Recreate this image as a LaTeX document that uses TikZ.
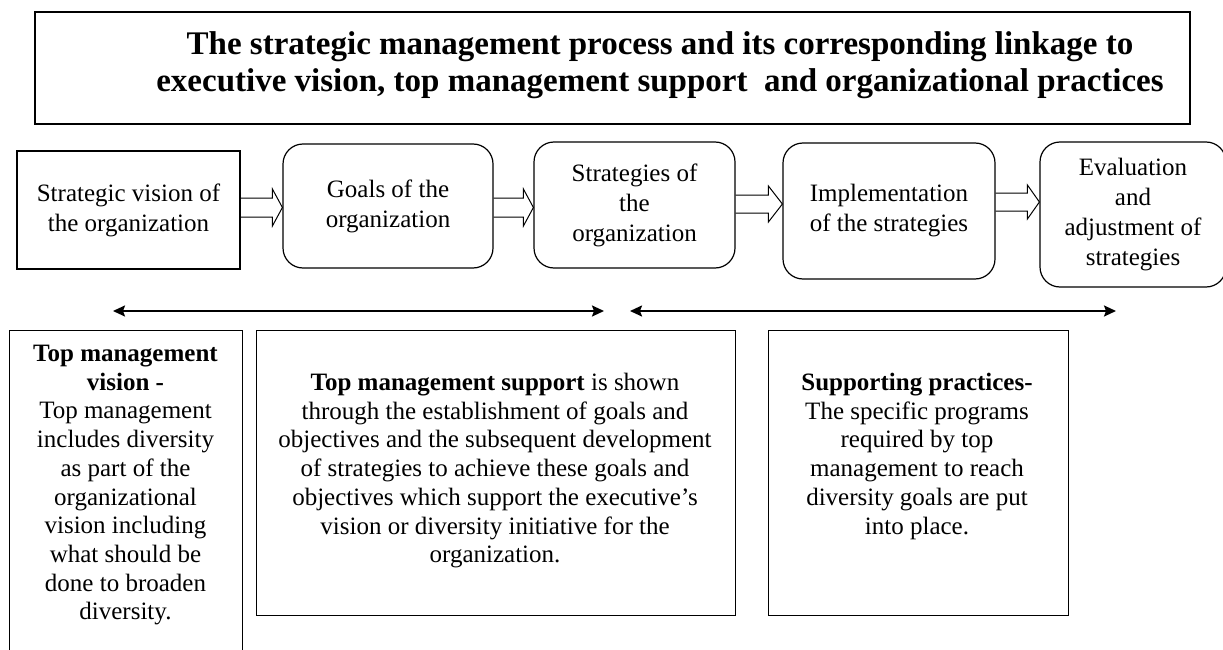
\documentclass[tikz,border=0pt]{standalone}
\usepackage{fontspec}
\setmainfont{Liberation Serif}
\usetikzlibrary{arrows.meta,calc}
\begin{document}
\begin{tikzpicture}[x=1pt,y=-1pt,
  box/.style={draw=black, line width=1.2pt, inner sep=0pt, align=center, font=\fontsize{25}{30}\selectfont},
  rbox/.style={box, rounded corners=20pt},
  pbox/.style={draw=black, line width=1.2pt, inner sep=0pt, anchor=north west},
  barrow/.style={draw=black, line width=1pt, line join=miter},
  dbl/.style={line width=2pt, {Stealth[length=12pt,width=11pt,inset=2pt]}-{Stealth[length=12pt,width=11pt,inset=2pt]}},
  txt/.style={inner sep=0pt, align=center, anchor=north, font=\fontsize{25}{28.7}\selectfont}
]
\useasboundingbox (0,0) rectangle (1223,650);
\clip (0,0) rectangle (1223,650);

% title
\node[draw=black, line width=1.4pt, minimum width=1155pt, minimum height=112pt, inner sep=0pt] (tbox) at (612.5,68) {};
\node[inner sep=0pt, align=center, anchor=north, font=\fontsize{33}{37}\selectfont\bfseries] (title) at (660,31)
  {The strategic management process and its corresponding linkage to\\
   executive vision, top management support\ \ and organizational practices};

% process row
\node[box, minimum width=223pt, minimum height=118pt] (b1) at (128.5,210) {Strategic vision of\\the organization};
\node[rbox, minimum width=210pt, minimum height=124pt] (b2) at (388,206) {Goals of the\\organization};
\node[rbox, minimum width=201pt, minimum height=126pt] (b3) at (634.5,205) {Strategies of\\the\\organization};
\node[rbox, minimum width=212pt, minimum height=136pt] (b4) at (889,211) {Implementation\\of the strategies};
\node[rbox, minimum width=186pt, minimum height=145pt] (b5) at (1133,214.5) {Evaluation\\and\\adjustment of\\strategies};

% block arrows
\draw[barrow] let \p1=(b1.east), \p2=(b2.west) in
  (\x1,-198pt) -- (\x2-10pt,-198pt) -- (\x2-10pt,-189pt) -- (\x2,-207.5pt) -- (\x2-10pt,-226pt) -- (\x2-10pt,-217pt) -- (\x1,-217pt);
\draw[barrow] let \p1=(b2.east), \p2=(b3.west) in
  (\x1,-198pt) -- (\x2-10pt,-198pt) -- (\x2-10pt,-189pt) -- (\x2,-207.5pt) -- (\x2-10pt,-226pt) -- (\x2-10pt,-217pt) -- (\x1,-217pt);
\draw[barrow] let \p1=(b3.east), \p2=(b4.west) in
  (\x1,-195pt) -- (\x2-14pt,-195pt) -- (\x2-14pt,-186pt) -- (\x2,-204pt) -- (\x2-14pt,-222pt) -- (\x2-14pt,-213pt) -- (\x1,-213pt);
\draw[barrow] let \p1=(b4.east), \p2=(b5.west) in
  (\x1,-193pt) -- (\x2-12pt,-193pt) -- (\x2-12pt,-185pt) -- (\x2,-202pt) -- (\x2-12pt,-219pt) -- (\x2-12pt,-211pt) -- (\x1,-211pt);

% double arrows
\coordinate (d1a) at (113,311);
\coordinate (d1b) at (604,311);
\coordinate (d2a) at (630,311);
\coordinate (d2b) at (1116,311);
\draw[dbl] (d1a) -- (d1b);
\draw[dbl] (d2a) -- (d2b);

% bottom boxes
\node[pbox, minimum width=233pt, minimum height=345pt] (p1) at (9,330) {};
\node[pbox, minimum width=479pt, minimum height=285pt] (p2) at (256,330) {};
\node[pbox, minimum width=300pt, minimum height=285pt] (p3) at (768,330) {};

\node[txt] (p1t) at (125.5,345) {\textbf{Top management}\\\textbf{vision -}\\Top management\\includes diversity\\as part of the\\organizational\\vision including\\what should be\\done to broaden\\diversity.};
\node[txt] (p2t) at (495,373) {\textbf{Top management support} is shown\\through the establishment of goals and\\objectives and the subsequent development\\of strategies to achieve these goals and\\objectives which support the executive’s\\vision or diversity initiative for the\\organization.};
\node[txt] (p3t) at (917,373) {\textbf{Supporting practices-}\\The specific programs\\required by top\\management to reach\\diversity goals are put\\into place.};
\end{tikzpicture}
\end{document}
